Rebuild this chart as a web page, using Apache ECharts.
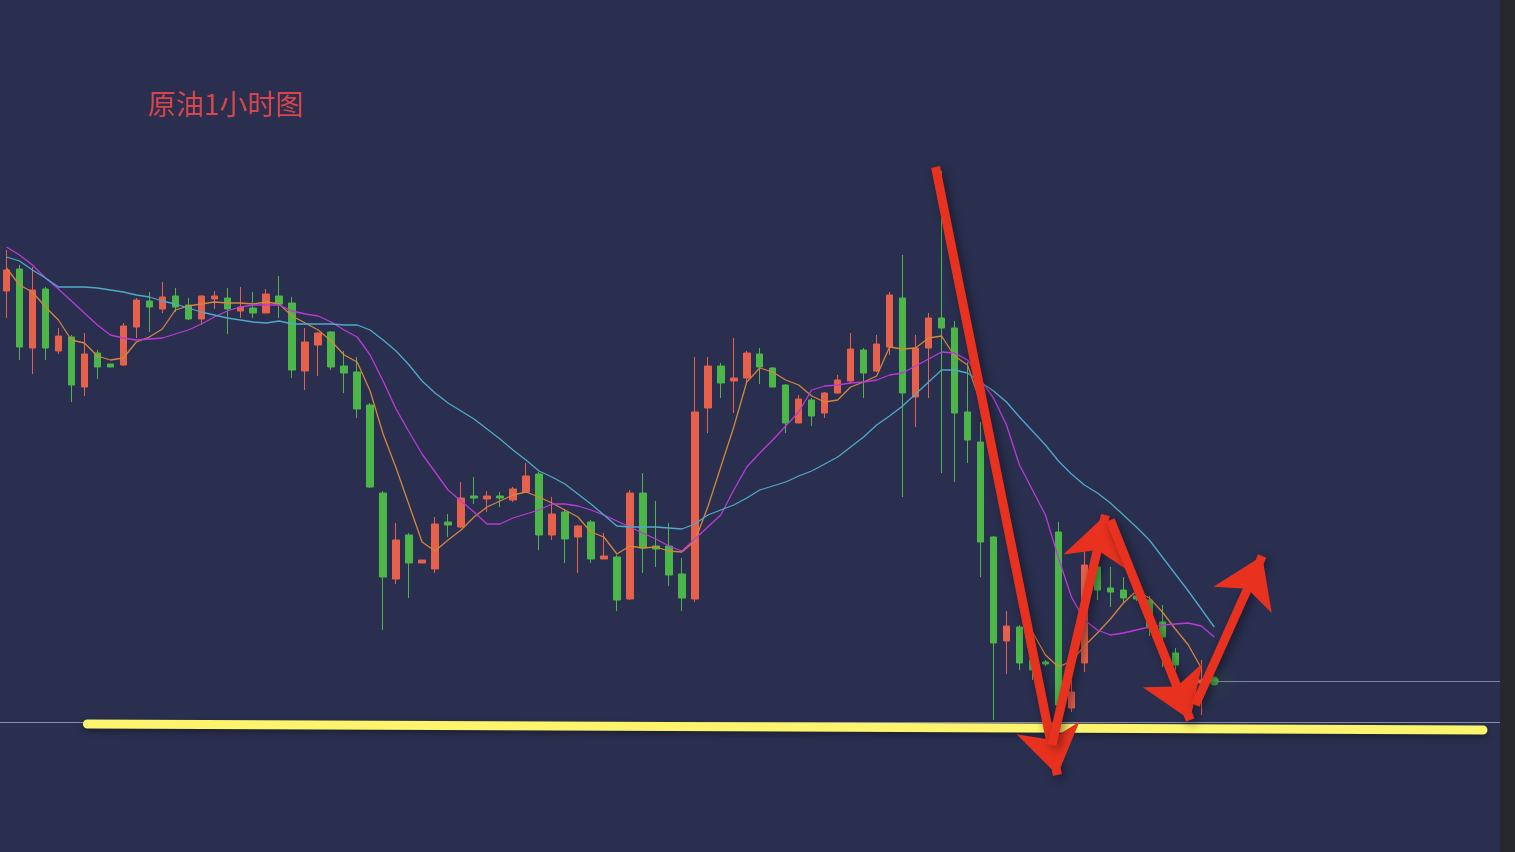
<!DOCTYPE html>
<html><head><meta charset="utf-8">
<script src="https://cdn.jsdelivr.net/npm/echarts@6/dist/echarts.min.js"></script>
<style>html,body{margin:0;padding:0;background:#2a2f4f;}#c{width:1515px;height:852px;}</style>
</head><body><div id="c"></div>
<script>
// ---- data ----
const title = '原油1小时图';
// [open, close, low, high]
const candles = [
[73.09,73.30,72.82,73.50],[73.31,72.53,72.40,73.35],[72.52,73.10,72.26,73.33],[73.11,72.52,72.40,73.13],
[72.49,72.64,72.46,72.72],[72.63,72.15,71.98,72.65],[72.13,72.46,72.04,72.67],[72.47,72.33,72.21,72.50],
[72.36,72.33,72.33,72.36],[72.35,72.74,72.34,72.77],[72.73,73.00,72.62,73.02],[72.99,72.93,72.68,73.08],
[72.91,73.03,72.87,73.18],[73.04,72.93,72.88,73.12],[72.95,72.81,72.80,73.02],[72.81,73.04,72.75,73.05],
[73.01,73.04,72.91,73.09],[73.02,72.91,72.66,73.12],[72.89,72.93,72.82,73.13],[72.92,72.87,72.82,73.08],
[72.87,73.06,72.87,73.11],[73.04,72.96,72.82,73.24],[72.97,72.30,72.22,73.03],[72.29,72.58,72.10,72.72],
[72.55,72.67,72.24,72.68],[72.68,72.33,72.30,72.69],[72.34,72.27,72.07,72.49],[72.28,71.91,71.82,72.43],
[71.95,71.13,71.12,71.97],[71.07,70.23,69.70,71.09],[70.21,70.60,70.16,70.77],[70.65,70.37,70.02,70.67],
[70.37,70.40,70.37,70.40],[70.31,70.76,70.27,70.83],[70.78,70.75,70.63,70.86],[70.73,71.02,70.72,71.18],
[71.04,71.02,70.96,71.23],[71.01,71.04,70.88,71.09],[71.04,71.02,70.93,71.08],[71.00,71.11,70.98,71.13],
[71.08,71.24,71.07,71.37],[71.26,70.65,70.50,71.28],[70.65,70.86,70.60,71.03],[70.88,70.61,70.37,70.90],
[70.63,70.74,70.27,70.75],[70.78,70.41,70.37,70.80],[70.41,70.44,70.41,70.67],[70.43,70.00,69.89,70.45],
[70.01,71.07,70.00,71.10],[71.07,70.52,70.27,71.27],[70.54,70.51,70.33,70.99],[70.54,70.25,70.14,70.77],
[70.26,70.02,69.89,70.42],[70.01,71.88,69.98,72.43],[71.92,72.34,71.67,72.43],[72.34,72.17,72.02,72.37],
[72.19,72.22,71.87,72.62],[72.22,72.47,72.18,72.49],[72.46,72.33,72.16,72.52],[72.32,72.13,72.13,72.33],
[72.15,71.77,71.67,72.16],[71.77,72.01,71.77,72.05],[72.00,71.84,71.74,72.02],[71.87,72.07,71.82,72.08],
[72.07,72.20,72.06,72.25],[72.19,72.51,72.17,72.67],[72.50,72.27,72.02,72.52],[72.29,72.56,72.28,72.65],
[72.53,73.05,72.45,73.08],[73.02,72.07,71.03,73.45],[72.03,72.52,71.73,72.65],[72.52,72.82,72.02,72.87],
[72.82,72.72,71.27,74.29],[72.72,71.87,71.18,72.79],[71.88,71.60,71.37,72.38],[71.58,70.58,70.23,71.78],
[70.63,69.57,68.80,70.64],[69.59,69.74,69.26,69.89],[69.73,69.37,69.30,69.75],[69.40,69.30,69.20,69.45],
[69.38,69.36,69.34,69.40],[70.68,68.95,68.82,70.78],[68.92,69.08,68.88,69.20],[69.37,70.35,69.28,70.52],
[70.33,70.10,70.00,70.35],[70.12,70.08,69.93,70.33],[70.10,70.02,69.97,70.23],[70.04,70.01,69.99,70.06],
[70.00,69.72,69.64,70.04],[69.78,69.63,69.33,69.95],[69.47,69.35,69.30,69.52],[69.12,69.20,69.08,69.24],
[69.17,69.20,68.85,69.40],[69.21,69.19,69.18,69.22]
];
const maFast = [73.32,73.15,73.08,72.93,72.80,72.60,72.57,72.44,72.40,72.42,72.58,72.63,72.71,72.90,72.94,72.96,72.98,72.97,72.97,72.96,72.98,72.96,72.84,72.77,72.70,72.59,72.45,72.38,72.09,71.66,71.32,70.95,70.58,70.49,70.60,70.70,70.83,70.93,70.99,71.05,71.08,71.03,70.97,70.90,70.83,70.68,70.63,70.46,70.54,70.52,70.53,70.49,70.48,70.59,70.93,71.33,71.73,72.18,72.32,72.28,72.20,72.15,72.04,71.98,72.00,72.13,72.18,72.24,72.53,72.51,72.52,72.62,72.64,72.44,72.35,71.97,71.30,70.70,70.10,69.68,69.45,69.33,69.39,69.54,69.67,69.81,69.97,70.09,70.02,69.88,69.71,69.55,69.32,null];
const maMid = [73.53,73.45,73.35,73.22,73.11,72.99,72.87,72.75,72.65,72.62,72.60,72.61,72.62,72.66,72.70,72.76,72.83,72.89,72.93,72.95,72.95,72.95,72.89,72.86,72.84,72.78,72.70,72.63,72.45,72.19,71.91,71.68,71.46,71.28,71.10,70.99,70.88,70.76,70.76,70.82,70.86,70.90,70.96,70.96,70.94,70.90,70.85,70.79,70.73,70.67,70.61,70.54,70.49,70.61,70.73,70.85,71.10,71.33,71.47,71.60,71.74,71.88,72.10,72.14,72.15,72.17,72.18,72.20,72.25,72.27,72.34,72.41,72.48,72.47,72.40,72.20,72.02,71.75,71.35,71.10,70.85,70.42,70.03,69.80,69.70,69.65,69.67,69.70,69.73,69.75,69.76,69.77,69.74,69.63];
const maSlow = [73.43,73.39,73.30,73.22,73.13,73.13,73.13,73.12,73.10,73.08,73.05,73.03,72.99,72.96,72.92,72.88,72.85,72.82,72.80,72.78,72.77,72.79,72.76,72.76,72.76,72.76,72.75,72.75,72.70,72.60,72.49,72.35,72.19,72.07,71.97,71.89,71.81,71.71,71.61,71.50,71.40,71.29,71.23,71.16,71.06,70.96,70.85,70.74,70.73,70.73,70.73,70.72,70.71,70.76,70.85,70.90,70.95,71.02,71.10,71.14,71.18,71.24,71.29,71.36,71.43,71.53,71.63,71.75,71.84,71.94,72.06,72.18,72.30,72.30,72.27,72.18,72.09,71.98,71.83,71.69,71.55,71.39,71.26,71.15,71.07,70.97,70.85,70.73,70.60,70.43,70.26,70.09,69.91,69.73];
const emptySlots = 22;            // blank hours to the right of the last candle
const supportLine = [[6.23,68.76],[113.69,68.70]];   // [bar index, price]
const refPrice = 68.78;           // thin grey line
const arrows = [
  [[71.54,74.33],[80.92,68.25]],
  [[80.50,68.55],[84.62,70.85]],
  [[85.00,70.80],[91.15,68.80]],
  [[91.54,68.95],[96.69,70.44]]
];
const categories = candles.map((_, i) => 'h' + i).concat(Array.from({length: emptySlots}, (_, i) => 'p' + i));

// ---- chart ----
const N = categories.length;
const band = 13;
const chart = echarts.init(document.getElementById('c'), null, {renderer: 'canvas'});
const lastIdx = candles.length - 1;
const lastClose = candles[lastIdx][1];
const pad = (arr) => arr.concat(new Array(N - arr.length).fill(null));

chart.setOption({
  backgroundColor: '#2a2f4f',
  animation: false,
  title: {
    text: title, left: 143, top: 85,
    textStyle: {color: '#d8464b', fontSize: 28, fontWeight: 'normal', fontFamily: 'Noto Sans CJK SC'}
  },
  grid: {left: -1.5, top: 0, width: N * band, height: 852, containLabel: false},
  xAxis: [
    {type: 'category', data: categories, boundaryGap: true, show: false},
    {type: 'value', min: -0.5, max: N - 0.5, show: false}
  ],
  yAxis: {type: 'value', min: 67.48, max: 76, show: false, splitLine: {show: false}},
  series: [
    {
      type: 'candlestick', data: candles, barWidth: 7, z: 3,
      itemStyle: {color: '#e5614b', color0: '#4cb649', borderColor: '#e5614b', borderColor0: '#4cb649', borderWidth: 1},
      markLine: {
        silent: true, symbol: 'none', label: {show: false},
        lineStyle: {color: '#8a8ea8', width: 1, type: 'solid'},
        data: [{yAxis: refPrice}]
      }
    },
    {type: 'line', data: pad(maFast), symbol: 'none', z: 4, lineStyle: {color: '#d4853c', width: 1.3}},
    {type: 'line', data: pad(maMid), symbol: 'none', z: 4, lineStyle: {color: '#bb3ad6', width: 1.3}},
    {type: 'line', data: pad(maSlow), symbol: 'none', z: 4, lineStyle: {color: '#4fa9c9', width: 1.3}},
    {
      type: 'lines', coordinateSystem: 'cartesian2d', xAxisIndex: 1, z: 5,
      data: [{coords: [[lastIdx, lastClose], [N - 0.5, lastClose]]}],
      lineStyle: {color: '#7e83a0', width: 1, opacity: 1}
    },
    {
      type: 'scatter', xAxisIndex: 0, z: 6,
      data: [[lastIdx, lastClose]], symbolSize: 9,
      itemStyle: {color: '#55c24e', shadowBlur: 22, shadowColor: 'rgba(80,200,80,0.9)'}
    },
    {
      type: 'lines', coordinateSystem: 'cartesian2d', xAxisIndex: 1, z: 7,
      data: [{coords: supportLine}],
      lineStyle: {color: '#fbf46c', width: 9, opacity: 1, cap: 'round', shadowBlur: 6, shadowColor: 'rgba(0,0,0,0.35)', shadowOffsetY: 3}
    },
    {
      type: 'lines', coordinateSystem: 'cartesian2d', xAxisIndex: 1, z: 8,
      symbol: ['none', 'arrow'], symbolSize: [0, 48],
      data: arrows.map(a => ({coords: a})),
      lineStyle: {color: '#e8321f', width: 9, opacity: 1, shadowBlur: 10, shadowColor: 'rgba(0,0,0,0.45)', shadowOffsetX: 3, shadowOffsetY: 3},
      itemStyle: {color: '#e8321f'}
    }
  ],
  graphic: [
    {type: 'rect', right: 0, top: 0, shape: {width: 15, height: 852}, style: {fill: '#27282c'}, z: 100}
  ]
});
</script>
</body></html>
